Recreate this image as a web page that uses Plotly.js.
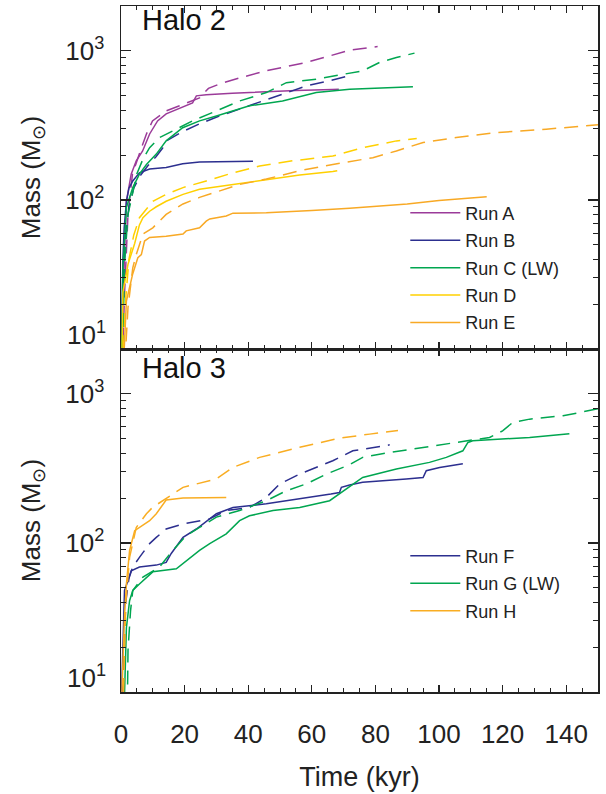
<!DOCTYPE html>
<html>
<head>
<meta charset="utf-8">
<script src="https://cdn.plot.ly/plotly-3.0.1.min.js"></script>
<style>html,body{margin:0;padding:0;background:#fff}#chart{width:606px;height:794px}</style>
</head>
<body>
<div id="chart"></div>
<script>
// ---------- Halo 2 ----------
const runA_t = [0.1, 0.6, 1.7, 3.2, 4.8, 6.8, 9.0, 11.5, 14.2, 18.4, 22.5, 23.7, 26.8, 35, 45.7, 55, 66.5, 68.5];
const runA_m = [5, 21, 98, 149, 183, 213, 277, 339, 378, 414, 448, 499, 507, 520, 533, 542, 550, 552];
const runA_dash_t = [0.4, 1.1, 2.2, 3.6, 6.4, 8.0, 9.9, 14.2, 18.4, 24.7, 27.5, 31.0, 37.3, 45.7, 58.3, 65.6, 71.9, 80.7];
const runA_dash_m = [8, 23, 80, 149, 223, 277, 339, 396, 428, 484, 560, 600, 659, 735, 836, 925, 1010, 1069];

const runB_t = [0.2, 0.6, 1.0, 1.7, 2.5, 3.7, 5.8, 9.0, 14.2, 19.4, 24.7, 33.1, 41.5];
const runB_m = [12, 40, 65, 98, 120, 134, 152, 161, 165, 175, 180, 181, 182];
const runB_dash_t = [0.3, 0.8, 1.5, 2.5, 4.0, 6.0, 8.5, 11.0, 13.1, 14.3, 19, 24.7, 31, 38.2, 47.6, 58.3, 65.6, 72.9];
const runB_dash_m = [10, 30, 60, 90, 120, 145, 170, 195, 223, 249, 285, 324, 366, 414, 484, 582, 630, 690];

const runC_t = [0.2, 0.6, 1.7, 3.7, 5.8, 8.0, 11.1, 14.2, 19.4, 24.7, 30, 35.1, 40.4, 50.8, 61.4, 71.9, 80, 91.8];
const runC_m = [10, 35, 89, 121, 149, 173, 203, 249, 305, 339, 366, 396, 428, 461, 525, 553, 563, 575];
const runC_dash_t = [0.5, 1.2, 2.2, 3.5, 5.0, 7.0, 9, 12.1, 18.4, 22.5, 30, 37.3, 45.7, 52, 61.4, 71.9, 76, 81.3, 86.6, 92.3];
const runC_dash_m = [10, 40, 80, 110, 150, 190, 224, 262, 305, 339, 396, 461, 525, 612, 646, 714, 735, 836, 902, 966];

const runD_t = [0.1, 0.6, 2.2, 4.3, 5.8, 6.9, 9, 11.1, 14.2, 19.5, 24.7, 35.2, 45.7, 56.2, 66.6, 68];
const runD_m = [5, 24, 37, 51, 68, 76, 84, 90, 98, 109, 118, 127, 138, 147, 155, 157];
const runD_dash_t = [0.8, 1.5, 2.5, 4, 5.8, 10, 14.2, 19.5, 26.8, 35.2, 43.6, 54, 66.6, 76, 86.6, 93];
const runD_dash_m = [10, 22, 40, 58, 76, 98, 109, 121, 134, 152, 169, 183, 197, 224, 249, 258];

const runE_t = [0.8, 1.7, 3.7, 5.3, 6.4, 7.4, 9.0, 14.2, 19.5, 20.5, 24.7, 26.8, 27.9, 33.1, 35.2, 45.7, 60, 71.9, 90, 100, 115];
const runE_m = [8, 21, 32, 41, 43, 53, 56, 57, 59, 62, 65, 72, 74.5, 78, 81.5, 82, 85, 88, 94, 99, 105];
const runE_dash_t = [1.2, 2.2, 3.7, 4.8, 6.9, 10, 14.2, 19.5, 24.7, 31, 37.3, 45.7, 56.2, 66.6, 79.2, 86.6, 95, 105.4, 118, 133.7, 150];
const runE_dash_m = [8, 19, 35, 43, 59, 65, 80, 94, 104, 115, 127, 138, 157, 173, 192, 213, 243, 262, 283, 298, 320];

// ---------- Halo 3 ----------
const runF_t = [0.2, 1.1, 2.2, 3.2, 5.8, 11.1, 14.2, 15.8, 19.5, 23.7, 30, 35.2, 45.7, 56.2, 66, 68.7, 69.3, 71.9, 76, 89.7, 95, 96, 100.2, 107.5];
const runF_m = [10, 48, 56, 65, 69, 71, 74, 85, 109, 124, 157, 173, 183, 197, 213, 218, 236, 245, 255, 269, 275, 305, 321, 340];
const runF_dash_t = [0.5, 1.5, 2.5, 3.7, 5.8, 9, 11.1, 14.2, 19.5, 27.9, 33.1, 40.4, 45.7, 49.9, 56.2, 66.6, 72.9, 84.5];
const runF_dash_m = [10, 40, 58, 69, 80, 99, 109, 124, 134, 145, 165, 173, 202, 249, 290, 356, 415, 455];

const runG_t = [1.0, 1.7, 2.7, 3.7, 5.8, 10, 17.4, 20.5, 24.7, 27.9, 33.1, 37.3, 40.4, 47.8, 56.2, 65.6, 68.7, 76, 86.6, 97, 102.3, 107.5, 109.1, 110.6, 128.5, 141];
const runG_m = [8, 27, 41, 48, 53, 64, 67, 76, 89, 99, 115, 141, 152, 165, 173, 192, 213, 275, 313, 347, 375, 415, 472, 485, 510, 540];
const runG_dash_t = [2.0, 2.2, 3.0, 3.7, 6.9, 12.1, 16.3, 20.5, 24.7, 30, 37.3, 45.7, 52, 58.3, 64.6, 71.9, 76, 81.3, 91.8, 102.3, 109.6, 115.9, 120, 123.2, 128.5, 139, 144.2, 150];
const runG_dash_m = [8, 19, 35, 48, 59, 69, 89, 112, 127, 149, 165, 192, 224, 249, 290, 335, 375, 394, 427, 461, 485, 510, 565, 643, 677, 713, 750, 795];

const runH_t = [0.3, 1.1, 1.7, 2.7, 4.3, 5.8, 9, 11.1, 13.2, 14.2, 19.5, 33.1];
const runH_m = [10, 32, 53, 89, 121, 127, 141, 157, 183, 194, 200, 202];
const runH_dash_t = [0.8, 1.5, 2.7, 4.8, 8, 9.9, 19.5, 30, 35.2, 43.6, 56.2, 68.7, 78.2, 87.1];
const runH_dash_m = [10, 40, 80, 127, 157, 173, 236, 269, 321, 375, 438, 505, 537, 568];

const xTickVals = [0, 20, 40, 60, 80, 100, 120, 140];
const yTickVals = [10, 100, 1000];
const yTickText = ['', '10<sup>2</sup>', '10<sup>3</sup>'];
const yMinorVals = [20, 30, 40, 50, 60, 70, 80, 90, 200, 300, 400, 500, 600, 700, 800, 900];

const COL = {
  A: '#9b3b99', B: '#2c2f8f', C: '#00a650', D: '#ffd000', E: '#f8a925',
  F: '#2c2f8f', G: '#00a650', H: '#f9ad22'
};
const FONT = 'Liberation Sans, Arial, Helvetica, sans-serif';
const DASH = '14px,8px';

const traces = [];
function addRun(name, t, m, td, md, color, xa, ya, leg) {
  traces.push({x: t, y: m, xaxis: xa, yaxis: ya, mode: 'lines', name: name,
    line: {color: color, width: 1.5}, legend: leg, legendgroup: name, showlegend: true});
  traces.push({x: td, y: md, xaxis: xa, yaxis: ya, mode: 'lines', name: name + ' dashed',
    line: {color: color, width: 1.5, dash: DASH}, showlegend: false});
}
addRun('Run A', runA_t, runA_m, runA_dash_t, runA_dash_m, COL.A, 'x', 'y', 'legend');
addRun('Run B', runB_t, runB_m, runB_dash_t, runB_dash_m, COL.B, 'x', 'y', 'legend');
addRun('Run C (LW)', runC_t, runC_m, runC_dash_t, runC_dash_m, COL.C, 'x', 'y', 'legend');
addRun('Run D', runD_t, runD_m, runD_dash_t, runD_dash_m, COL.D, 'x', 'y', 'legend');
addRun('Run E', runE_t, runE_m, runE_dash_t, runE_dash_m, COL.E, 'x', 'y', 'legend');
addRun('Run F', runF_t, runF_m, runF_dash_t, runF_dash_m, COL.F, 'x2', 'y2', 'legend2');
addRun('Run G (LW)', runG_t, runG_m, runG_dash_t, runG_dash_m, COL.G, 'x2', 'y2', 'legend2');
addRun('Run H', runH_t, runH_m, runH_dash_t, runH_dash_m, COL.H, 'x2', 'y2', 'legend2');

const LINEC = '#222';
function xAxis(anchor, labels) {
  return {
    anchor: anchor, domain: [0, 1], range: [0, 150], showgrid: false, zeroline: false,
    showline: true, linecolor: LINEC, linewidth: 1.5, mirror: 'ticks',
    ticks: 'inside', ticklen: 7, tickwidth: 1.2, tickcolor: LINEC,
    tickmode: 'array', tickvals: xTickVals, showticklabels: labels,
    tickfont: {family: FONT, size: 26, color: '#222'}, ticklabelstandoff: 18,
    minor: {ticks: 'inside', ticklen: 4, tickwidth: 1, tickcolor: LINEC, dtick: 5, tick0: 0},
    title: labels ? {text: 'Time (kyr)', font: {family: FONT, size: 27, color: '#222'}, standoff: 19} : {text: ''}
  };
}
function yAxis(anchor, domain) {
  return {
    anchor: anchor, domain: domain, type: 'log', range: [1, Math.log10(2000)],
    showgrid: false, zeroline: false, showline: true, linecolor: LINEC, linewidth: 1.5, mirror: 'ticks',
    ticks: 'inside', ticklen: 10, tickwidth: 1.2, tickcolor: LINEC,
    tickmode: 'array', tickvals: yTickVals, ticktext: yTickText,
    tickfont: {family: FONT, size: 26, color: '#222'}, ticklabelstandoff: 10,
    minor: {ticks: 'inside', ticklen: 5, tickwidth: 1, tickcolor: LINEC, tickmode: 'array', tickvals: yMinorVals},
    title: {text: 'Mass (M<sub>⊙</sub>)', font: {family: FONT, size: 26, color: '#222'}, standoff: 17}
  };
}

const legendBase = {
  xref: 'paper', yref: 'paper', xanchor: 'left', yanchor: 'top',
  bgcolor: 'rgba(0,0,0,0)', borderwidth: 0,
  font: {family: FONT, size: 18, color: '#222'}, itemwidth: 50, tracegroupgap: 1
};

const layout = {
  width: 606, height: 794,
  margin: {l: 121, r: 8, t: 6, b: 102},
  paper_bgcolor: '#fff', plot_bgcolor: '#fff',
  showlegend: true,
  xaxis: xAxis('y', false),
  yaxis: yAxis('x', [0.5, 1]),
  xaxis2: xAxis('y2', true),
  yaxis2: yAxis('x2', [0, 0.5]),
  legend: Object.assign({}, legendBase, {x: 0.596, y: 0.725}),
  legend2: Object.assign({}, legendBase, {x: 0.596, y: 0.225}),
  annotations: [
    {text: 'Halo 2', xref: 'paper', yref: 'paper', x: 0.040, y: 0.98, xanchor: 'left', yanchor: 'middle',
     showarrow: false, font: {family: FONT, size: 29, color: '#111'}},
    {text: 'Halo 3', xref: 'paper', yref: 'paper', x: 0.040, y: 0.472, xanchor: 'left', yanchor: 'middle',
     showarrow: false, font: {family: FONT, size: 29, color: '#111'}},
    {text: '10<sup>1</sup>', xref: 'paper', yref: 'y', x: 0, y: 1, xanchor: 'right', yanchor: 'bottom',
     xshift: -13, yshift: -3, showarrow: false, font: {family: FONT, size: 26, color: '#222'}},
    {text: '10<sup>1</sup>', xref: 'paper', yref: 'y2', x: 0, y: 1, xanchor: 'right', yanchor: 'bottom',
     xshift: -13, yshift: -3, showarrow: false, font: {family: FONT, size: 26, color: '#222'}}
  ]
};

Plotly.newPlot('chart', traces, layout, {staticPlot: true, displayModeBar: false});
</script>
</body>
</html>
